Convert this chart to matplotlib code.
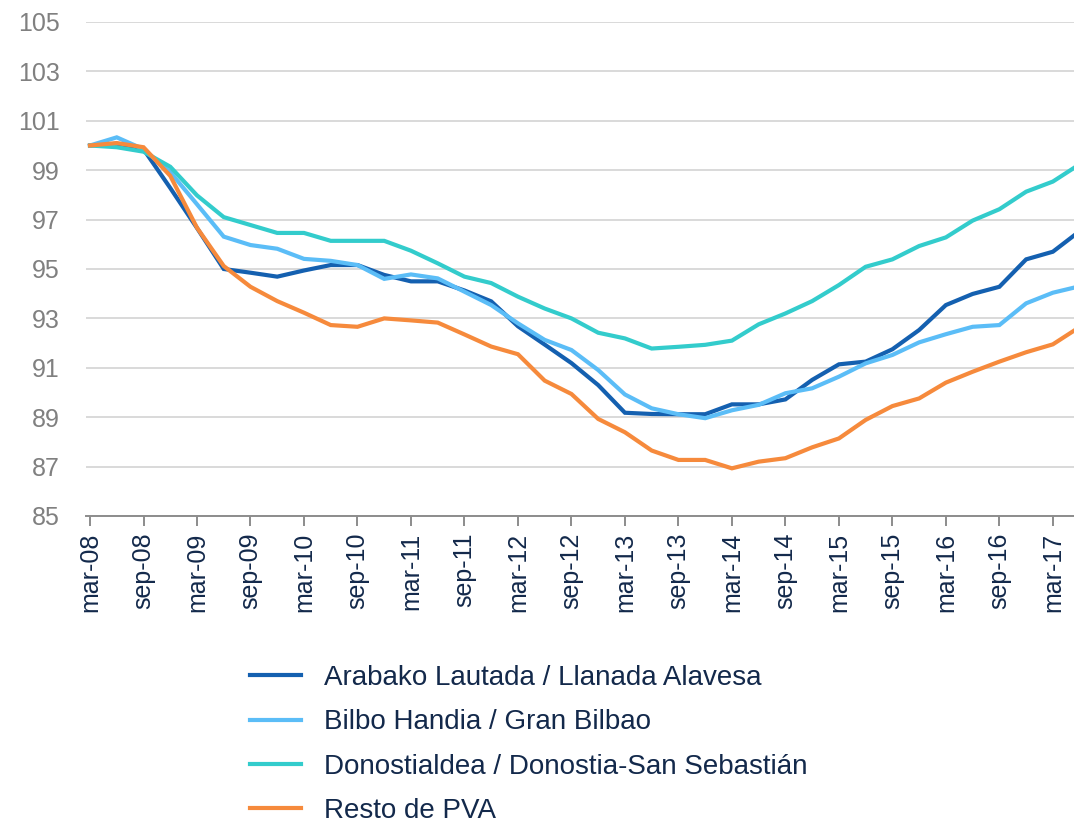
import numpy as np
import matplotlib
matplotlib.use("Agg")
import matplotlib.pyplot as plt

plt.rcParams['font.family'] = ['Liberation Sans', 'DejaVu Sans']

# trimestres mar-08 .. jun-17
periodos = ['mar-08', 'jun-08', 'sep-08', 'dic-08', 'mar-09', 'jun-09', 'sep-09', 'dic-09',
            'mar-10', 'jun-10', 'sep-10', 'dic-10', 'mar-11', 'jun-11', 'sep-11', 'dic-11',
            'mar-12', 'jun-12', 'sep-12', 'dic-12', 'mar-13', 'jun-13', 'sep-13', 'dic-13',
            'mar-14', 'jun-14', 'sep-14', 'dic-14', 'mar-15', 'jun-15', 'sep-15', 'dic-15',
            'mar-16', 'jun-16', 'sep-16', 'dic-16', 'mar-17', 'jun-17']

arabako = [100, 100.07, 99.85, 98.28, 96.66, 95.0, 94.85, 94.69, 94.94, 95.16,
           95.16, 94.76, 94.5, 94.5, 94.13, 93.69, 92.68, 91.94, 91.19, 90.3,
           89.18, 89.13, 89.12, 89.12, 89.52, 89.52, 89.72, 90.51, 91.14, 91.25,
           91.75, 92.53, 93.54, 93.99, 94.28, 95.39, 95.7, 96.53]
bilbo = [100, 100.33, 99.85, 98.92, 97.62, 96.31, 95.97, 95.82, 95.41, 95.33,
         95.16, 94.6, 94.78, 94.62, 94.08, 93.54, 92.8, 92.13, 91.72, 90.91,
         89.92, 89.36, 89.12, 88.96, 89.28, 89.5, 89.97, 90.17, 90.64, 91.18,
         91.52, 92.03, 92.36, 92.66, 92.73, 93.61, 94.04, 94.3]
donostia = [100, 99.93, 99.75, 99.14, 97.98, 97.1, 96.78, 96.46, 96.46, 96.14,
            96.14, 96.14, 95.74, 95.23, 94.69, 94.43, 93.88, 93.4, 93.0, 92.42,
            92.19, 91.78, 91.85, 91.93, 92.1, 92.76, 93.2, 93.7, 94.35, 95.09,
            95.39, 95.93, 96.28, 96.96, 97.42, 98.13, 98.54, 99.24]
resto = [100, 100.1, 99.93, 98.77, 96.67, 95.12, 94.28, 93.7, 93.23, 92.73,
         92.66, 93.0, 92.92, 92.83, 92.35, 91.86, 91.55, 90.48, 89.94, 88.93,
         88.39, 87.65, 87.27, 87.27, 86.93, 87.2, 87.34, 87.78, 88.14, 88.89,
         89.45, 89.76, 90.4, 90.84, 91.25, 91.63, 91.95, 92.65]

nombres = ['Arabako Lautada / Llanada Alavesa',
           'Bilbo Handia / Gran Bilbao',
           'Donostialdea / Donostia-San Sebastián',
           'Resto de PVA']
colores = ['#1460B0', '#5BBDF7', '#33CCCC', '#F68A3C']

fig = plt.figure(figsize=(10.74, 8.24), dpi=100)
fig.set_facecolor("white")
ax = fig.add_axes([86/1074, 1 - 516/824, (1074 - 86)/1074, (516 - 22)/824])

x = np.arange(len(periodos))
lineas = []
for serie, nombre, c in zip([arabako, bilbo, donostia, resto], nombres, colores):
    l, = ax.plot(x, serie, color=c, lw=3.0, label=nombre, solid_joinstyle='miter')
    lineas.append(l)

ax.set_ylim(85, 105)
ax.set_yticks(np.arange(85, 106, 2))
ax.set_xlim(-0.15, 36.79)
ax.set_xticks(x[::2])
ax.set_xticklabels(periodos[::2], rotation=90)

ax.grid(axis='y', color='#D9D9D9', lw=1.4)
ax.set_axisbelow(True)
for s in ['top', 'right', 'left']:
    ax.spines[s].set_visible(False)
ax.spines['bottom'].set_color('#8C8C8C')
ax.spines['bottom'].set_linewidth(1.4)

ax.tick_params(axis='y', length=0, pad=19, labelsize=18, labelcolor='#808080')
ax.tick_params(axis='x', length=7, width=1.4, color='#8C8C8C', pad=5,
               labelsize=18, labelcolor='#13294B')

fig.legend(handles=lineas, loc='upper left', bbox_to_anchor=(250/1074, 1 - 665/824),
           frameon=False, fontsize=20, labelcolor='#13294B', handlelength=1.85,
           handletextpad=0.8, labelspacing=0.66, borderpad=0, borderaxespad=0)

fig.savefig("out.png", dpi=100, facecolor="white")
